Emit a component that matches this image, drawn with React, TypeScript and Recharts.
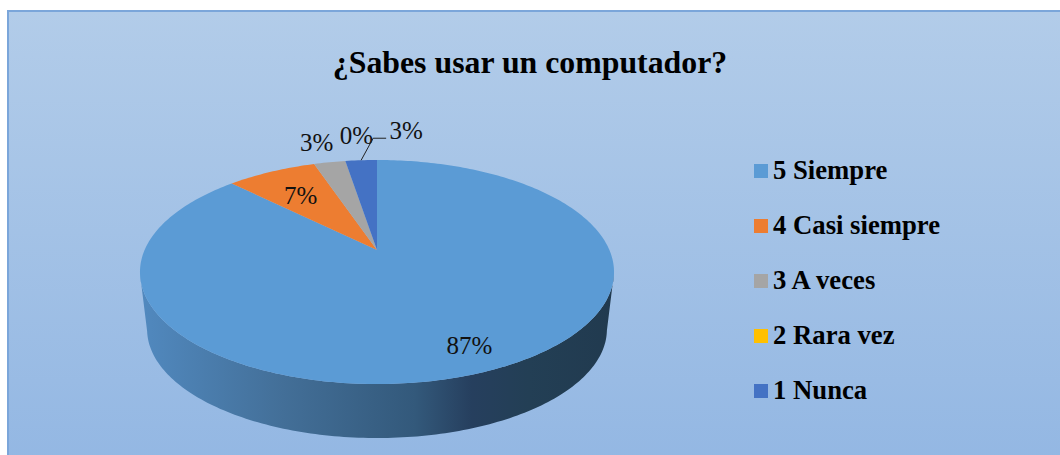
import React from 'react'
import { Cell, Legend, Pie, PieChart } from 'recharts'

const categories = ['5 Siempre', '4 Casi siempre', '3 A veces', '2 Rara vez', '1 Nunca']
const values = [87.4, 7.4, 2.6, 0, 2.6]
const colors = ['#5b9bd5', '#ed7d31', '#a5a5a5', '#ffc000', '#4472c4']
const chartTitle = '¿Sabes usar un computador?'

const data = categories.map((name, i) => ({ name, value: values[i] }))

// fake 3D: circle -> perspective ellipse
const TILT = 0.4635
const PERSP = 0.1965
const DEPTH = 58
const WALL_SCALE = 0.97

// where each label sits: fraction of radius + nudge in px
const labelRadius = [0.82, 0.7, 1, 1, 1]
const labelNudge = [[6, 0], [1, 3], [-13, -20], [11, -25], [45, -30]]

const rad = (deg: number) => (deg * Math.PI) / 180

function project(cx: number, cy: number, r: number, angle: number, f = 1) {
  const u = Math.cos(rad(angle)) * f
  const v = Math.sin(rad(angle)) * f
  const d = 1 + PERSP * v
  return { x: cx + (r * u) / d, y: cy - (r * TILT * v) / d }
}

function sweep(start: number, end: number) {
  const steps = Math.max(1, Math.ceil(Math.abs(end - start)))
  return Array.from({ length: steps + 1 }, (_, i) => start + ((end - start) * i) / steps)
}

function Slice3D(props: any) {
  const { cx, cy, outerRadius, startAngle, endAngle, fill } = props
  const angles = sweep(startAngle, endAngle)
  const top = angles.map((a) => project(cx, cy, outerRadius, a))
  const slice = `M${cx},${cy} ` + top.map((p) => `L${p.x},${p.y}`).join(' ') + ' Z'

  // side wall, only the front part of the rim is visible
  const front = angles.filter((a) => Math.sin(rad(a)) <= -PERSP)
  const rimTop = front.map((a) => project(cx, cy, outerRadius, a))
  const rimBottom = rimTop
    .map((p) => ({
      x: cx + (p.x - cx) * WALL_SCALE,
      y: cy + (p.y - cy) * WALL_SCALE + DEPTH
    }))
    .reverse()
  const wall = [...rimTop, ...rimBottom].map((p, i) => `${i ? 'L' : 'M'}${p.x},${p.y}`).join(' ') + ' Z'

  return (
    <g>
      {front.length > 1 && (
        <>
          <defs>
            <linearGradient id="wallShade" x1="0" y1="0" x2="1" y2="0">
              <stop offset="0%" stopColor="#5189bf" />
              <stop offset="30%" stopColor="#436f98" />
              <stop offset="58%" stopColor="#33597b" />
              <stop offset="70%" stopColor="#263f5e" />
              <stop offset="82%" stopColor="#233f55" />
              <stop offset="100%" stopColor="#213a4f" />
            </linearGradient>
          </defs>
          <path d={wall} fill="url(#wallShade)" />
        </>
      )}
      <path d={slice} fill={fill} />
    </g>
  )
}

function SliceLabel(props: any) {
  const { cx, cy, outerRadius, midAngle, percent, index } = props
  const p = project(cx, cy, outerRadius, midAngle, labelRadius[index])
  const [dx, dy] = labelNudge[index]
  return (
    <g>
      {index === 4 && (
        <path
          d={`M${p.x},${p.y} L${p.x + 12},${p.y - 22} L${p.x + 25},${p.y - 22}`}
          fill="none"
          stroke="#222"
          strokeWidth={1}
        />
      )}
      <text
        x={p.x + dx}
        y={p.y + dy}
        textAnchor="middle"
        dominantBaseline="central"
        fontFamily="'Liberation Serif'"
        fontSize={25}
        fill="#111"
      >
        {`${Math.round(percent * 100)}%`}
      </text>
    </g>
  )
}

function LegendList({ payload }: any) {
  return (
    <div>
      {(payload || []).map((entry: any) => (
        <div key={entry.value} style={{ display: 'flex', alignItems: 'center', height: 55 }}>
          <span style={{ width: 14, height: 14, background: entry.color, marginRight: 5 }} />
          <span style={{ fontFamily: "'Liberation Serif'", fontWeight: 'bold', fontSize: 26.7, color: '#000' }}>
            {entry.value}
          </span>
        </div>
      ))}
    </div>
  )
}

export default function App() {
  return (
    <div style={{ position: 'absolute', left: 0, top: 0, width: 1060, height: 455, background: '#fff', overflow: 'hidden' }}>
      <div
        style={{
          position: 'absolute',
          left: 7,
          top: 10,
          width: 1060,
          height: 460,
          boxSizing: 'border-box',
          border: '2px solid #7ba6da',
          background: 'linear-gradient(180deg, #b2cce9 0%, #93b7e3 100%)'
        }}
      />
      <div style={{ position: 'absolute', left: 0, top: 0 }}>
        <PieChart width={1060} height={455} margin={{ top: 0, right: 0, bottom: 0, left: 0 }}>
          <text
            x={530}
            y={62}
            textAnchor="middle"
            dominantBaseline="central"
            fontFamily="'Liberation Serif'"
            fontWeight="bold"
            fontSize={31.8}
            fill="#000"
          >
            {chartTitle}
          </text>
          <Pie
            data={data}
            dataKey="value"
            nameKey="name"
            cx={377}
            cy={250}
            innerRadius={0}
            outerRadius={232.4}
            startAngle={90}
            endAngle={-270}
            paddingAngle={0}
            stroke="none"
            isAnimationActive={false}
            shape={Slice3D}
            label={SliceLabel}
            labelLine={false}
          >
            {data.map((entry, i) => (
              <Cell key={entry.name} fill={colors[i]} />
            ))}
          </Pie>
          <Legend
            layout="vertical"
            align="right"
            verticalAlign="top"
            itemSorter={null}
            wrapperStyle={{ position: 'absolute', left: 754, top: 143, width: 260 }}
            content={<LegendList />}
          />
        </PieChart>
      </div>
    </div>
  )
}
